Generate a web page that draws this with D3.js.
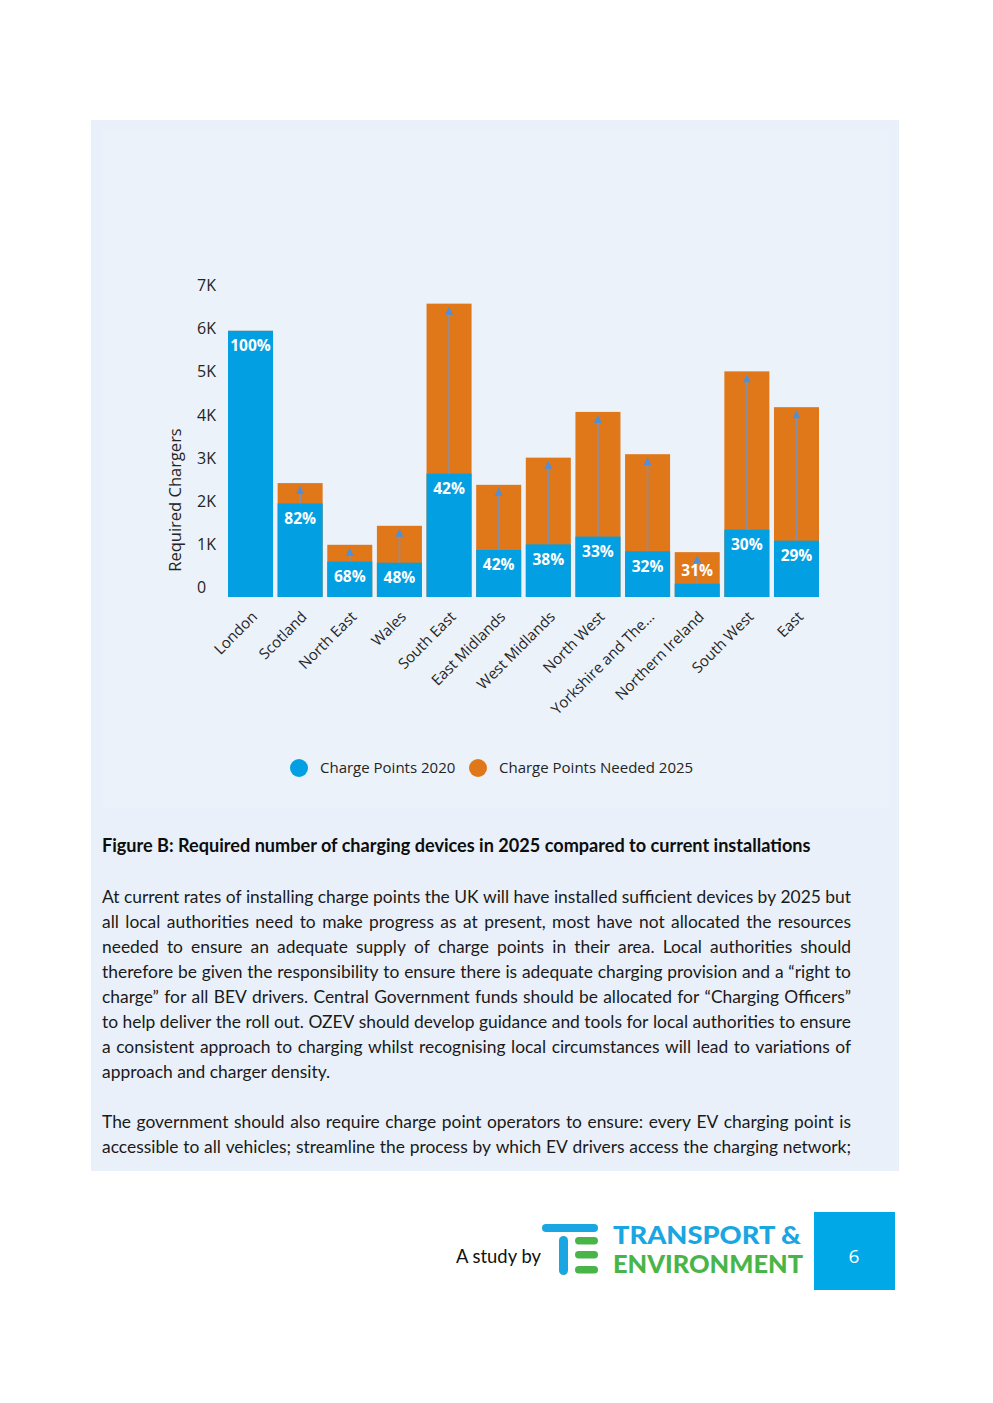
<!DOCTYPE html>
<html><head><meta charset="utf-8">
<script src="https://cdn.jsdelivr.net/npm/d3@7/dist/d3.min.js"></script>
<style>body{margin:0;background:#fff}svg{display:block}</style>
</head><body>
<svg id="page" width="993" height="1403"></svg>
<script>
// ---------- DATA ----------
const categories = ["London","Scotland","North East","Wales","South East","East Midlands","West Midlands","North West","Yorkshire and The Humber","Northern Ireland","South West","East"];
const chargePoints2020 = [6170, 2170, 820, 795, 2860, 1090, 1220, 1400, 1060, 310, 1560, 1305];
const chargePointsNeeded2025 = [6170, 2640, 1210, 1650, 6800, 2600, 3230, 4290, 3310, 1040, 5230, 4400];
const pctLabels = ["100%","82%","68%","48%","42%","42%","38%","33%","32%","31%","30%","29%"];
const yTickValues = [0,1000,2000,3000,4000,5000,6000,7000];
const yTickLabels = ["0","1K","2K","3K","4K","5K","6K","7K"];
const yAxisTitle = "Required Chargers";
const legendLabels = ["Charge Points 2020","Charge Points Needed 2025"];
const figureTitle = "Figure B: Required number of charging devices in 2025 compared to current installations";
const bodyLines = [
  ["At current rates of installing charge points the UK will have installed sufficient devices by 2025 but", true],
  ["all local authorities need to make progress as at present, most have not allocated the resources", true],
  ["needed to ensure an adequate supply of charge points in their area. Local authorities should", true],
  ["therefore be given the responsibility to ensure there is adequate charging provision and a \u201cright to", true],
  ["charge\u201d for all BEV drivers. Central Government funds should be allocated for \u201cCharging Officers\u201d", true],
  ["to help deliver the roll out.  OZEV should develop guidance and tools for local authorities to ensure", true],
  ["a consistent approach to charging whilst recognising local circumstances will lead to variations of", true],
  ["approach and charger density.", false],
  null,
  ["The government should also require charge point operators to ensure: every EV charging point is", true],
  ["accessible to all vehicles; streamline the process by which EV drivers access the charging network;", true]
];
const footerText = "A study by";
const logoLines = ["TRANSPORT &", "ENVIRONMENT"];
const pageNumber = "6";

// ---------- STYLE ----------
const BLUE = "#02a0e2", ORANGE = "#e0781a";
const svg = d3.select("#page");

// background panel
svg.append("rect").attr("x",91).attr("y",120).attr("width",808).attr("height",1051).attr("fill","#e9f0f9");
svg.append("rect").attr("x",103).attr("y",130).attr("width",786).attr("height",678).attr("fill","#ebf2fa");

// ---------- CHART ----------
const x = d3.scaleBand().domain(categories).range([228, 819]).paddingInner(0.093).paddingOuter(0);
const y = d3.scaleLinear().domain([0, 7000]).range([597, 295]);

const data = categories.map((c,i)=>({c, cp:chargePoints2020[i], need:chargePointsNeeded2025[i], pct:pctLabels[i]}));

// y tick labels
const yAxis = d3.axisLeft(y).tickValues(yTickValues).tickFormat((d,i)=>yTickLabels[i]).tickSize(0);
const gy = svg.append("g").attr("transform","translate(197,-10)").call(yAxis);
gy.select(".domain").remove();
gy.selectAll("text").attr("text-anchor","start").attr("x",0).attr("dy","0.35em")
  .style("font-family","'Open Sans'").style("font-size","16px").attr("fill","#252423");

svg.append("text").attr("transform","translate(181,500) rotate(-90)").attr("text-anchor","middle")
  .style("font-family","'Open Sans'").style("font-size","16.5px").attr("fill","#252423").text(yAxisTitle);

// bars
const gb = svg.append("g");
gb.selectAll("rect.need").data(data).join("rect").attr("class","need")
  .attr("x",d=>x(d.c)).attr("width",x.bandwidth())
  .attr("y",d=>y(d.need)).attr("height",d=>y(0)-y(d.need)).attr("fill",ORANGE);
gb.selectAll("rect.cp").data(data).join("rect").attr("class","cp")
  .attr("x",d=>x(d.c)).attr("width",x.bandwidth())
  .attr("y",d=>y(d.cp)).attr("height",d=>y(0)-y(d.cp)).attr("fill",BLUE);

// arrows
const arr = data.filter(d=>d.need > d.cp);
gb.selectAll("line.arrow").data(arr).join("line").attr("class","arrow")
  .attr("x1",d=>x(d.c)+x.bandwidth()/2).attr("x2",d=>x(d.c)+x.bandwidth()/2)
  .attr("y1",d=>y(d.cp)).attr("y2",d=>y(d.need)+8)
  .attr("stroke","#8490aa").attr("stroke-width",1.6);
gb.selectAll("path.head").data(arr).join("path").attr("class","head")
  .attr("d",d=>{const cx=x(d.c)+x.bandwidth()/2, t=y(d.need)+3; return `M${cx},${t}L${cx+4},${t+8}L${cx-4},${t+8}Z`;})
  .attr("fill","#4d8fd8");

// percent labels
gb.selectAll("text.pct").data(data).join("text").attr("class","pct")
  .attr("x",d=>x(d.c)+x.bandwidth()/2)
  .attr("y",d=> (y(0)-y(d.cp) < 25) ? y(d.need)+18 : y(d.cp)+15)
  .attr("dy","0.35em").attr("text-anchor","middle")
  .style("font-family","'Open Sans'").style("font-weight","700").style("font-size","15.5px")
  .attr("fill","#fff").text(d=>d.pct);

// x labels
const gx = svg.append("g");
gx.selectAll("text").data(categories).join("text")
  .attr("transform",c=>`translate(${x(c)+x.bandwidth()/2+4},614) rotate(-45)`)
  .attr("text-anchor","end").attr("dy","0.35em")
  .style("font-family","'Open Sans'").style("font-size","15px").attr("fill","#252423")
  .text(c=> c.length > 18 ? c.slice(0,17) + "\u2026" : c);

// legend
const lg = svg.append("g").attr("transform","translate(0,768)");
const legendX = [299, 478];
[BLUE, ORANGE].forEach((col,i)=>{
  lg.append("circle").attr("cx",legendX[i]).attr("cy",0).attr("r",9).attr("fill",col);
  lg.append("text").attr("x",legendX[i]+21).attr("y",0).attr("dy","0.35em")
    .style("font-family","'Open Sans'").style("font-size","15px").attr("fill","#252423").text(legendLabels[i]);
});

// ---------- TEXT ----------
const textFont = "Lato";
function measure(str, size, weight){
  const t = svg.append("text").style("font-family",textFont).style("font-size",size+"px").style("font-weight",weight||400).text(str);
  const w = t.node().getComputedTextLength(); t.remove(); return w;
}
// title
let ts = 17; ts = ts * 709 / measure(figureTitle, ts, 700);
svg.append("text").attr("x",102).attr("y",852).style("font-family",textFont).style("font-weight","700")
  .style("font-size",ts+"px").attr("fill","#0d0d0d").text(figureTitle);

// body
let bs = 17; bs = bs * 749 / measure(bodyLines[0][0], bs, 400);
const left = 102, width = 749;
bodyLines.forEach((ln,i)=>{
  if(!ln) return;
  const yb = 903 + i*25;
  const [str, just] = ln;
  const g = svg.append("text").attr("y",yb).style("font-family",textFont).style("font-size",bs+"px").attr("fill","#1a1a1a");
  if(!just){ g.attr("x",left).text(str); return; }
  const words = str.split(/ +/);
  const ws = words.map(w=>measure(w,bs,400));
  const total = d3.sum(ws);
  const gap = (width - total)/(words.length-1);
  let cx = left;
  words.forEach((w,k)=>{ g.append("tspan").attr("x",cx).text(w); cx += ws[k] + gap; });
});

// ---------- FOOTER ----------
let fs = 18; fs = fs * 85 / measure(footerText, fs, 400);
svg.append("text").attr("x",456).attr("y",1263).style("font-family",textFont).style("font-size",fs+"px").attr("fill","#111").text(footerText);
const TEB = "#1aa6e2", TEG = "#49b548";
svg.append("rect").attr("x",542).attr("y",1224).attr("width",56).attr("height",8).attr("rx",4).attr("fill",TEB);
svg.append("rect").attr("x",559).attr("y",1236).attr("width",9).attr("height",39).attr("rx",4.5).attr("fill",TEB);
[1237,1251,1266].forEach(yy=> svg.append("rect").attr("x",575).attr("y",yy).attr("width",23).attr("height",7.5).attr("rx",3.7).attr("fill",TEG));
[[logoLines[0],1244,TEB,188],[logoLines[1],1273,TEG,190]].forEach(([s,yy,col,w])=>{
  svg.append("text").attr("x",613).attr("y",yy).style("font-family",textFont).style("font-weight","900")
    .style("font-size","24px").attr("textLength",w).attr("lengthAdjust","spacingAndGlyphs").attr("fill",col).text(s);
});
svg.append("rect").attr("x",814).attr("y",1212).attr("width",81).attr("height",78).attr("fill","#00a8e8");
svg.append("text").attr("x",854).attr("y",1256).attr("dy","0.35em").attr("text-anchor","middle")
  .style("font-family","'Open Sans'").style("font-size","19px").attr("fill","#fff").text(pageNumber);
</script>
</body></html>
